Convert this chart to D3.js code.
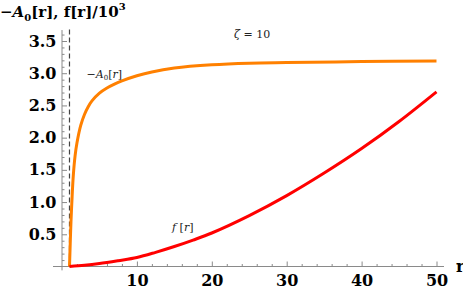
<!DOCTYPE html>
<html>
<head>
<meta charset="utf-8">
<script src="https://cdn.jsdelivr.net/npm/d3@7"></script>
<style>
  body { margin: 0; background: #fff; }
  svg { display: block; }
  .tick text { font-family: 'DejaVu Serif', 'Liberation Serif', serif; font-weight: bold; font-size: 16px; fill: #000; }
  .tick line { stroke: #8a8a8a; }
</style>
</head>
<body>
<div id="chart"></div>
<script>
const width = 463,
  height = 291;

// -A0[r]
const rA0 = [1, 1.1, 1.2, 1.35, 1.5, 1.75, 2, 2.5, 3, 3.5, 4, 5, 6, 7, 8, 10, 12, 15, 20, 25, 30, 40, 50];
const minusA0 = [0, 0.36, 0.70, 1.08, 1.40, 1.72, 1.92, 2.19, 2.36, 2.48, 2.57, 2.69, 2.77, 2.83, 2.88, 2.96, 3.02, 3.08, 3.13, 3.155, 3.165, 3.18, 3.19];

// f[r]/10^3
const rF = [1, 3, 5, 7.5, 10, 12.5, 15, 17.5, 20, 25, 30, 35, 40, 45, 50];
const fScaled = [0, 0.018, 0.045, 0.09, 0.14, 0.22, 0.31, 0.41, 0.52, 0.79, 1.10, 1.45, 1.83, 2.25, 2.71];

const xMajor = [10, 20, 30, 40, 50];
const xMinor = d3.range(2, 51, 2).filter(v => v % 10 !== 0);
const yMajor = [0.5, 1.0, 1.5, 2.0, 2.5, 3.0, 3.5];
const yMinor = d3.range(1, 37).map(v => v / 10).filter(v => Math.round(v * 10) % 5 !== 0);

const horizon = 1; // dashed vertical line at r = 1

const x = d3.scaleLinear().domain([0, 50]).range([62, 436.5]);
const y = d3.scaleLinear().domain([0, 3.5]).range([266.5, 41]);

const serif = "'DejaVu Serif', 'Liberation Serif', serif";

const svg = d3.select('#chart').append('svg')
  .attr('width', width)
  .attr('height', height);

// axes lines
svg.append('line')
  .attr('x1', x(-1.2)).attr('x2', x(51))
  .attr('y1', y(0)).attr('y2', y(0))
  .attr('stroke', '#8a8a8a');
svg.append('line')
  .attr('x1', x(0)).attr('x2', x(0))
  .attr('y1', y(-0.06)).attr('y2', y(3.67))
  .attr('stroke', '#8a8a8a');

// x ticks
svg.append('g')
  .attr('transform', `translate(0,${y(0)})`)
  .call(d3.axisBottom(x).tickValues(xMinor).tickSizeInner(-2.5).tickSizeOuter(0).tickFormat(''))
  .call(g => g.select('.domain').remove());
svg.append('g')
  .attr('transform', `translate(0,${y(0)})`)
  .call(d3.axisBottom(x).tickValues(xMajor).tickSizeInner(-5).tickSizeOuter(0).tickPadding(8).tickFormat(d3.format('d')))
  .call(g => g.select('.domain').remove())
  .attr('font-family', serif);

// y ticks
svg.append('g')
  .attr('transform', `translate(${x(0)},0)`)
  .call(d3.axisLeft(y).tickValues(yMinor).tickSizeInner(-2.5).tickSizeOuter(0).tickFormat(''))
  .call(g => g.select('.domain').remove());
svg.append('g')
  .attr('transform', `translate(${x(0)},0)`)
  .call(d3.axisLeft(y).tickValues(yMajor).tickSizeInner(-5).tickSizeOuter(0).tickPadding(5.5).tickFormat(d3.format('.1f')))
  .call(g => g.select('.domain').remove())
  .attr('font-family', serif);

// dashed line
svg.append('line')
  .attr('x1', x(horizon)).attr('x2', x(horizon))
  .attr('y1', y(3.68)).attr('y2', y(0))
  .attr('stroke', '#444')
  .attr('stroke-width', 1.2)
  .attr('stroke-dasharray', '5,3');

const line = d3.line()
  .x(d => x(d[0]))
  .y(d => y(d[1]))
  .curve(d3.curveCatmullRom.alpha(0.5));

svg.append('path')
  .datum(rA0.map((r, i) => [r, minusA0[i]]))
  .attr('d', line)
  .attr('fill', 'none')
  .attr('stroke', '#ff8000')
  .attr('stroke-width', 3);

svg.append('path')
  .datum(rF.map((r, i) => [r, fScaled[i]]))
  .attr('d', line)
  .attr('fill', 'none')
  .attr('stroke', '#ff0000')
  .attr('stroke-width', 3);

// y axis title
const title = svg.append('text')
  .attr('x', 0).attr('y', 17)
  .attr('font-family', serif)
  .attr('font-weight', 'bold')
  .attr('font-size', 15);
title.append('tspan').text('\u2212');
title.append('tspan').attr('font-style', 'italic').text('A');
title.append('tspan').attr('font-size', 10).attr('dy', 4).text('0');
title.append('tspan').attr('dy', -4).text('[r], f[r]/10');
title.append('tspan').attr('font-size', 10).attr('dy', -7).text('3');

// x axis title
svg.append('text')
  .attr('x', 456).attr('y', 271.5)
  .attr('font-family', serif)
  .attr('font-weight', 'bold')
  .attr('font-size', 16)
  .text('r');

// annotations
const zeta = svg.append('text')
  .attr('x', 234).attr('y', 38)
  .attr('font-family', serif)
  .attr('font-size', 11)
  .attr('fill', '#222');
zeta.append('tspan').attr('font-style', 'italic').text('\u03b6');
zeta.append('tspan').text(' = 10');

const aLab = svg.append('text')
  .attr('x', 86.5).attr('y', 77.5)
  .attr('font-family', serif)
  .attr('font-size', 11)
  .attr('fill', '#222');
aLab.append('tspan').text('\u2212');
aLab.append('tspan').attr('font-style', 'italic').text('A');
aLab.append('tspan').attr('font-size', 7).attr('dy', 2).text('0');
aLab.append('tspan').attr('dy', -2).text('[');
aLab.append('tspan').attr('font-style', 'italic').text('r');
aLab.append('tspan').text(']');

const fLab = svg.append('text')
  .attr('x', 172).attr('y', 231)
  .attr('font-family', serif)
  .attr('font-size', 11)
  .attr('fill', '#222');
fLab.append('tspan').attr('font-style', 'italic').text('f');
fLab.append('tspan').text(' [');
fLab.append('tspan').attr('font-style', 'italic').text('r');
fLab.append('tspan').text(']');
</script>
</body>
</html>
